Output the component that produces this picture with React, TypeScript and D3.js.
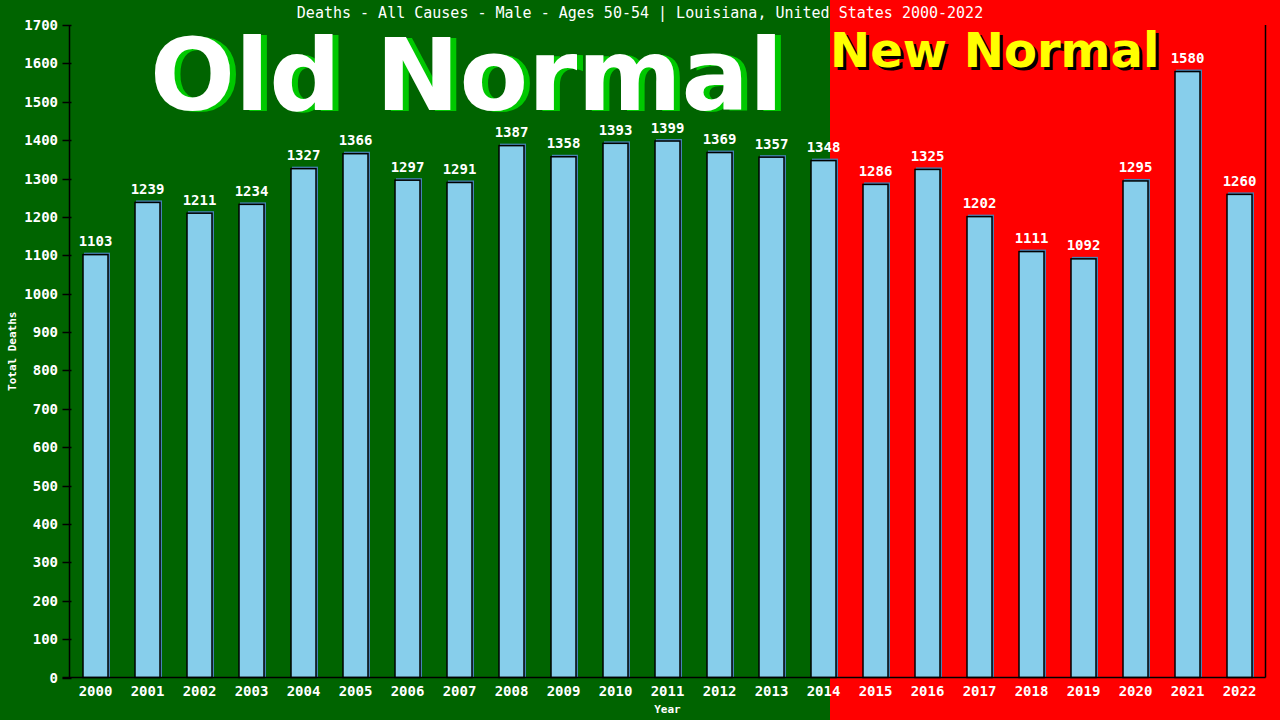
import React from "react";
import * as d3 from "d3";

const years = ["2000","2001","2002","2003","2004","2005","2006","2007","2008","2009","2010","2011","2012","2013","2014","2015","2016","2017","2018","2019","2020","2021","2022"];
const deaths = [1103,1239,1211,1234,1327,1366,1297,1291,1387,1358,1393,1399,1369,1357,1348,1286,1325,1202,1111,1092,1295,1580,1260];
const yTicks = d3.range(0, 1701, 100);
const title = "Deaths - All Causes - Male - Ages 50-54 | Louisiana, United States 2000-2022";
const splitYear = "2014";

const W = 1280, H = 720;
const mono = "'DejaVu Sans Mono', monospace";
const sans = "'DejaVu Sans', Verdana, sans-serif";

export default function App() {
  const left = 69.5, right = 1265.5, top = 25, bottom = 677.5;
  const x = d3.scaleBand<string>().domain(years).range([left, right]).paddingInner(0.5).paddingOuter(0.25);
  const y = d3.scaleLinear().domain([0, 1700]).range([bottom, top]);
  const bw = x.bandwidth();
  const splitX = (x(splitYear) as number) + bw * 0.75;
  const cx = (left + right) / 2;
  return (
    <svg width={W} height={H} style={{ position: "absolute", left: 0, top: 0, display: "block" }}>
      <rect x={0} y={0} width={splitX} height={H} fill="#006400" />
      <rect x={splitX} y={0} width={W - splitX} height={H} fill="#ff0000" />
      <text x={640} y={18} textAnchor="middle" fill="#fff" fontFamily={mono} fontSize={15}>{title}</text>
      <g fontFamily={sans} fontWeight="bold">
        <text x={156} y={111} fontSize={100} fill="#00c800">Old Normal</text>
        <text x={150} y={110} fontSize={100} fill="#fff">Old Normal</text>
        <text x={833} y={70} fontSize={48} fill="#000">New Normal</text>
        <text x={830} y={67} fontSize={48} fill="#ffff00">New Normal</text>
      </g>
      {years.map((yr, i) => {
        const bx = x(yr) as number;
        const by = y(deaths[i]);
        return (
          <g key={yr}>
            <rect x={bx + 1.5} y={by - 1.5} width={bw} height={bottom - by + 1.5} fill="#4682b4" />
            <rect x={bx + 0.5} y={by + 0.5} width={bw - 1} height={bottom - by - 0.5} fill="#87ceeb" stroke="#000" strokeWidth={1.5} />
            <text x={bx + bw / 2} y={by - 8} textAnchor="middle" fill="#fff" fontFamily={mono} fontSize={14} fontWeight="bold">{deaths[i]}</text>
            <text x={bx + bw / 2} y={696} textAnchor="middle" fill="#fff" fontFamily={mono} fontSize={14} fontWeight="bold">{yr}</text>
          </g>
        );
      })}
      <line x1={left} x2={left} y1={top} y2={bottom} stroke="#000" strokeWidth={1.5} />
      <line x1={right} x2={right} y1={top} y2={bottom} stroke="#000" strokeWidth={1.5} />
      <line x1={left - 7} x2={right} y1={bottom} y2={bottom} stroke="#000" strokeWidth={1.5} />
      {yTicks.map((t) => (
        <g key={t}>
          <line x1={left - 7} x2={left + 2} y1={Math.round(y(t)) + 0.5} y2={Math.round(y(t)) + 0.5} stroke="#000" strokeWidth={1.5} />
          <text x={58} y={y(t) + 5} textAnchor="end" fill="#fff" fontFamily={mono} fontSize={14} fontWeight="bold">{t}</text>
        </g>
      ))}
      <text x={cx} y={713} textAnchor="middle" fill="#fff" fontFamily={mono} fontSize={11} fontWeight="bold">Year</text>
      <text transform={`translate(16,${(top + bottom) / 2}) rotate(-90)`} textAnchor="middle" fill="#fff" fontFamily={mono} fontSize={11} fontWeight="bold">Total Deaths</text>
    </svg>
  );
}
